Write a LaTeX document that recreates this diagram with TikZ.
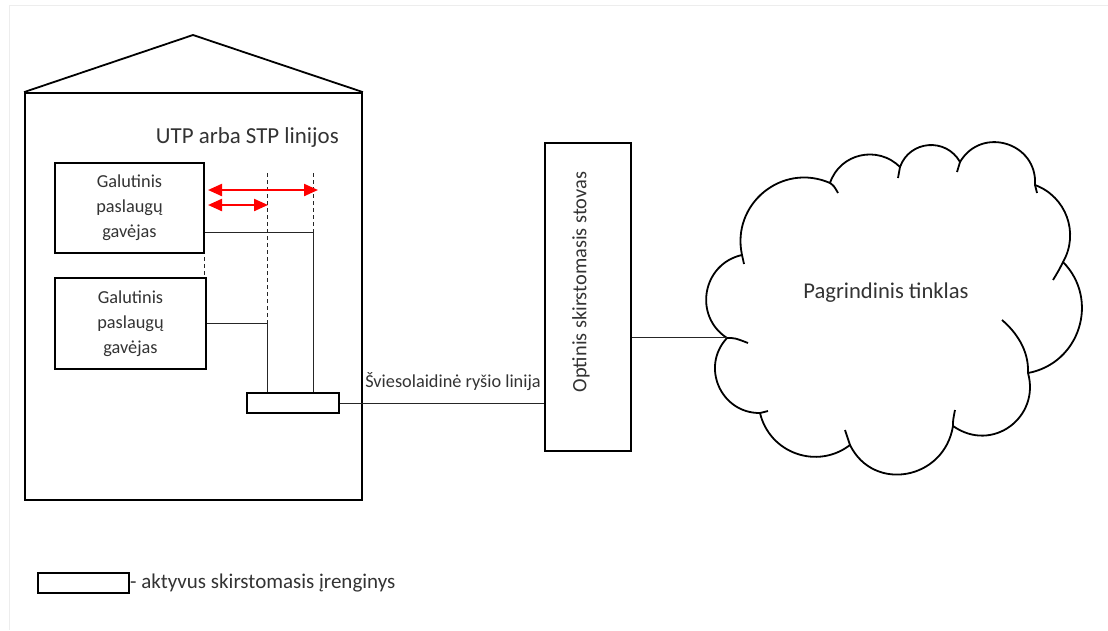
\documentclass[tikz,border=0pt]{standalone}
\usepackage{fontspec}
\setmainfont{Carlito}
\usetikzlibrary{arrows.meta,calc}
\definecolor{txt}{gray}{0.2}
\definecolor{faint}{gray}{0.93}
\begin{document}
\begin{tikzpicture}[x=1pt,y=-1pt,
  thickline/.style={draw=black,line width=1.8pt},
  thinline/.style={draw=black!85,line width=0.9pt},
  dashline/.style={draw=black!85,line width=0.9pt,dash pattern=on 4pt off 3pt},
  redarrow/.style={draw=red,line width=2.2pt,{Triangle[length=14pt,width=12pt]}-{Triangle[length=14pt,width=12pt]}},
  box/.style={thickline,fill=white,inner sep=0pt,text=txt,align=center},
  lbl/.style={inner sep=0pt,text=txt}]
\useasboundingbox (0,0) rectangle (1108,630);
% faint page frame
\draw[faint,line width=0.8pt] (9,630) -- (9,5) -- (1108,5);
% building
\node[box,minimum width=337pt,minimum height=407pt] (bldg) at (193.5,296.5) {};
\coordinate (apex) at (193,35);
\draw[thickline,line join=miter] (bldg.north west) -- (apex) -- (bldg.north east);
\node[lbl,anchor=east,font=\fontsize{22.9}{27}\selectfont] (utp) at (339,138) {UTP arba STP linijos};
% end user boxes
\node[box,minimum width=149pt,minimum height=90pt,font=\fontsize{18.3}{25}\selectfont] (box1) at (129.5,208) {Galutinis\\paslaugų\\gavėjas};
\node[box,minimum width=151pt,minimum height=91pt,font=\fontsize{18.3}{25}\selectfont] (box2) at (130.5,323.5) {Galutinis\\paslaugų\\gavėjas};
% active switch device
\node[box,minimum width=92pt,minimum height=20pt] (dev) at (293,403) {};
% junction coordinates
\coordinate (t1) at (267,173);
\coordinate (t2) at (313,173);
\coordinate (j1) at (267,323);
\coordinate (j2) at (313,232);
\draw[dashline] (t1) -- (j1);
\draw[dashline] (t2) -- (j2);
\draw[thinline] (j1) -- (j1 |- dev.north);
\draw[thinline] (j2) -- (j2 |- dev.north);
\draw[thinline] (box1.east |- j2) -- (j2);
\draw[thinline] (box2.east |- j1) -- (j1);
\coordinate (g1) at (204,257);
\coordinate (g2) at (204,277);
\draw[dashline] (g1) -- (g2);
% red arrows
\coordinate (r1a) at (208,190);
\coordinate (r1b) at (318,190);
\coordinate (r2a) at (208,205);
\coordinate (r2b) at (268,205);
\draw[redarrow] (r1a) -- (r1b);
\draw[redarrow] (r2a) -- (r2b);
% optical rack
\node[box,minimum width=86pt,minimum height=308pt] (rack) at (588,297) {};
\node[lbl,rotate=90,font=\fontsize{20.4}{24}\selectfont] (racktxt) at (581,282) {Optinis skirstomasis stovas};
% fibre line
\draw[thinline] (dev.east) -- (rack.west |- dev.east);
\node[lbl,font=\fontsize{18.3}{22}\selectfont] (fib) at (453,382) {Šviesolaidinė ryšio linija};
% cloud
\coordinate (cL) at (727,337);
\draw[thickline,line join=round] (742,255) .. controls (731,204) and (782,162) .. (830,183)
 .. controls (840,153) and (878,145) .. (900,167)
 .. controls (909.5,140.2) and (946.1,137.2) .. (960,162)
 .. controls (981.5,125.5) and (1037.7,142.7) .. (1035,185)
 .. controls (1066.2,196.5) and (1079.5,233.2) .. (1063,262)
 .. controls (1100,299.6) and (1079.9,363.4) .. (1028,373)
 .. controls (1040.4,417.2) and (992.3,453.7) .. (953,426)
 .. controls (944.2,480) and (873.4,492.8) .. (850,445)
 .. controls (817.2,470.2) and (769.5,453.2) .. (760,413)
 .. controls (720.9,413.4) and (700.3,366.6) .. (727,338)
 .. controls (693,315.9) and (702.4,263.8) .. (742,255) -- cycle;
\draw[thickline] (742,255) -- (744,264);
\draw[thickline] (830,183) .. controls (834,186) .. (838,193);
\draw[thickline] (900,167) -- (898,178);
\draw[thickline] (960,162) -- (957,172);
\draw[thickline] (1035,185) -- (1037,193);
\draw[thickline] (1063,262) .. controls (1059,270) .. (1053,280);
\draw[thickline] (1028,373) .. controls (1029,350) and (1016,332) .. (1002,320);
\draw[thickline] (953,426) .. controls (953,420) .. (955,410);
\draw[thickline] (850,445) .. controls (848,438) .. (845,430);
\draw[thickline] (760,413) -- (768,411);
\draw[thickline] (727,338) .. controls (735,338) .. (748,343);
\node[lbl,font=\fontsize{22.6}{27}\selectfont] (net) at (886,293) {Pagrindinis tinklas};
\draw[thinline] (rack.east |- cL) -- (cL);
% legend
\node[box,minimum width=91pt,minimum height=20pt] (leg) at (83.5,583) {};
\node[lbl,anchor=west,font=\fontsize{21}{25}\selectfont] (legtxt) at (leg.east) {- aktyvus skirstomasis įrenginys};
\end{tikzpicture}
\end{document}
